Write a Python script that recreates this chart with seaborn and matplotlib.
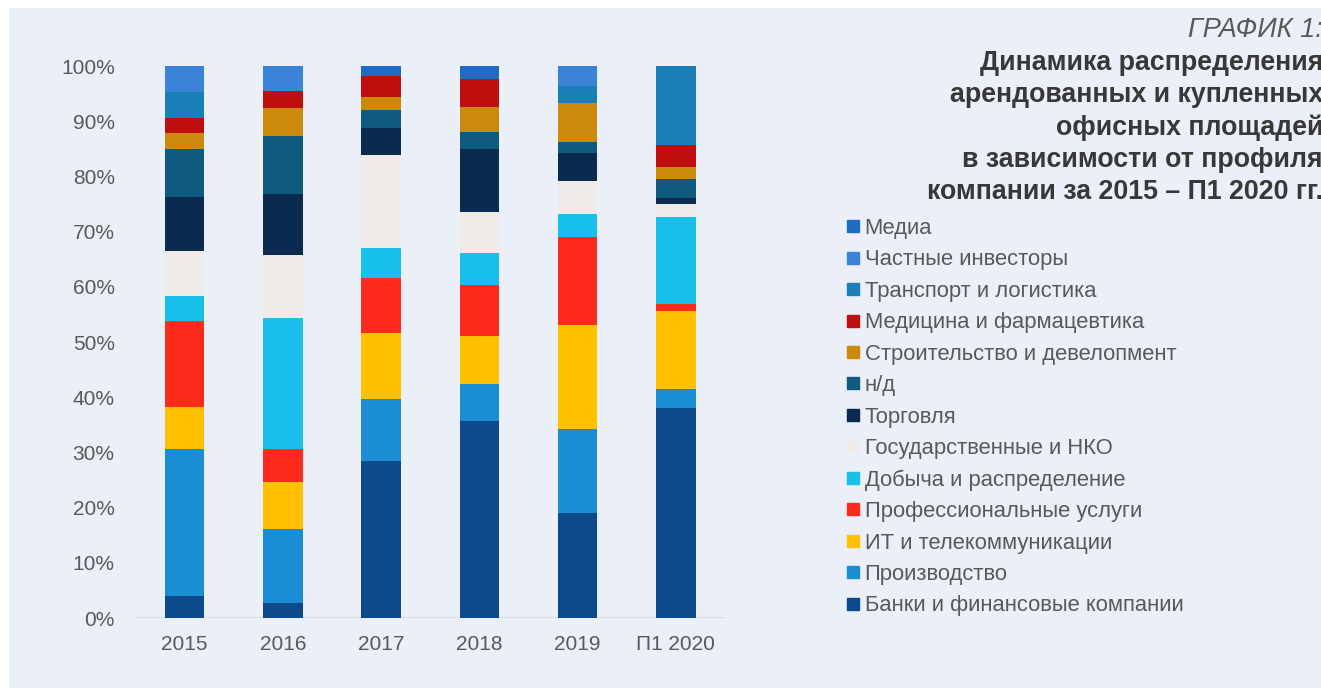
# -*- coding: utf-8 -*-
"""
Stacked bars: office space by company profile, 2015 - H1 2020
"""

import numpy as np
import pandas as pd

import seaborn as sns

import matplotlib
matplotlib.use('Agg')
import matplotlib.pyplot as plt
from matplotlib.lines import Line2D
from matplotlib.patches import Rectangle

periods = ['2015', '2016', '2017', '2018', '2019', 'П1 2020']

# shares in %, bottom of the stack first
banks        = [4.0, 2.7, 28.4, 35.6, 19.1, 38.1]
production   = [26.7, 13.5, 11.3, 6.8, 15.1, 3.3]
it_telecom   = [7.6, 8.4, 11.9, 8.7, 18.8, 14.3]
prof_service = [15.5, 6.1, 10.0, 9.3, 16.1, 1.2]
mining       = [4.6, 23.6, 5.4, 5.7, 4.1, 15.8]
government   = [8.0, 11.4, 16.9, 7.4, 6.0, 2.3]
trade        = [9.8, 11.2, 4.9, 11.4, 5.0, 1.0]
no_data      = [8.7, 10.5, 3.2, 3.2, 2.0, 3.5]
construction = [2.9, 5.0, 2.4, 4.5, 7.1, 2.2]
medicine     = [2.8, 3.0, 3.8, 5.1, 0.0, 3.9]
transport    = [4.7, 0.0, 0.0, 0.0, 3.0, 14.4]
private_inv  = [4.7, 4.6, 0.0, 0.0, 3.7, 0.0]
media        = [0.0, 0.0, 1.8, 2.3, 0.0, 0.0]

categories = ['Банки и финансовые компании', 'Производство', 'ИТ и телекоммуникации',
              'Профессиональные услуги', 'Добыча и распределение', 'Государственные и НКО',
              'Торговля', 'н/д', 'Строительство и девелопмент', 'Медицина и фармацевтика',
              'Транспорт и логистика', 'Частные инвесторы', 'Медиа']
series = [banks, production, it_telecom, prof_service, mining, government, trade,
          no_data, construction, medicine, transport, private_inv, media]
colors = ['#0c4a8b', '#1b8dd3', '#ffc000', '#fd2b1c', '#19c0e9', '#eeebe9', '#0a2a50',
          '#0f5b80', '#cb8a0b', '#bf0e0e', '#1a7fb6', '#3b83d8', '#1f6cc4']

df = pd.DataFrame(dict(zip(categories, series)), index=periods)
cum = df.cumsum(axis=1)

bg = '#eaeff8'
txt = '#595959'

plt.rcParams['font.family'] = ['Liberation Sans', 'DejaVu Sans']

fig = plt.figure(figsize=(13.21, 6.99), dpi=100)
fig.patch.set_facecolor('white')
fig.patches.append(Rectangle((9/1321., 11/699.), 1., 680/699., transform=fig.transFigure,
                             facecolor=bg, edgecolor='none', zorder=-1))

ax = fig.add_axes([135.5/1321., 1-618/699., 589.5/1321., 552/699.])
ax.set_facecolor('none')
ax.set_zorder(1)

# draw the cumulative totals from the top category down, each one covering the last
for i in range(len(categories)-1, -1, -1):
    sns.barplot(x=periods, y=cum[categories[i]].values, color=colors[i], saturation=1,
                width=0.40, errorbar=None, linewidth=0, ax=ax)

ax.set_xlim(-0.5, 5.5)
ax.set_ylim(0, 100)
ax.set_yticks(np.arange(0, 101, 10))
ax.set_yticklabels([str(v)+'%' for v in range(0, 101, 10)])
ax.axhline(0, color='#d6d9de', lw=1.2, zorder=0.5)
ax.tick_params(axis='both', length=0, labelsize=15, labelcolor=txt)
ax.tick_params(axis='y', pad=15)
ax.tick_params(axis='x', pad=12)
ax.set_xlabel('')
ax.set_ylabel('')
for s in ax.spines.values():
    s.set_visible(False)

# legend, top entry = top of the stack
handles = [Line2D([], [], marker='s', linestyle='', markersize=9, color=colors[i])
           for i in range(len(categories)-1, -1, -1)]
labels = [categories[i] for i in range(len(categories)-1, -1, -1)]
leg = fig.legend(handles, labels, loc='upper left', bbox_to_anchor=(847/1321., 1-218/699.),
                 frameon=False, fontsize=15.8, handlelength=0.55, handletextpad=0.25,
                 labelspacing=0.475, borderaxespad=0, borderpad=0)
for t in leg.get_texts():
    t.set_color(txt)

# title block, right aligned and running into the edge
fig.text(1323/1321., 1-30/699., 'ГРАФИК 1:', ha='right', va='center', fontsize=19.5,
         style='italic', color=txt)
title_lines = ['Динамика распределения', 'арендованных и купленных', 'офисных площадей',
               'в зависимости от профиля', 'компании за 2015 – П1 2020 гг.']
for k, line in enumerate(title_lines):
    fig.text(1323/1321., 1-(63+32.3*k)/699., line, ha='right', va='center', fontsize=19.3,
             fontweight='bold', color='#383838')

plt.savefig('out.png', dpi=100)
plt.close()
